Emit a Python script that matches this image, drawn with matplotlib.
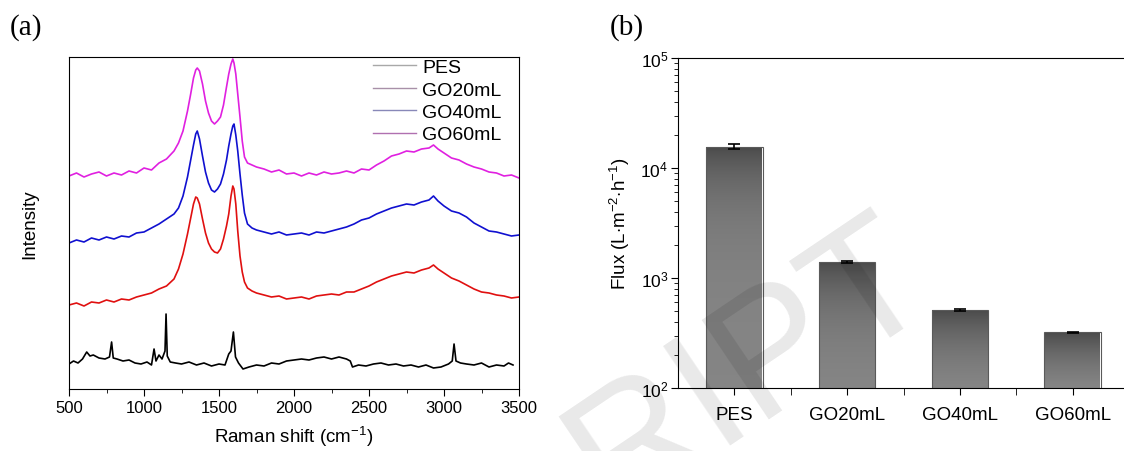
import numpy as np
import matplotlib
matplotlib.use('Agg')
import matplotlib.pyplot as plt
from matplotlib.lines import Line2D
from matplotlib.ticker import MultipleLocator, FixedLocator
from matplotlib.colors import LinearSegmentedColormap

plt.rcParams['font.family'] = ['Liberation Sans', 'DejaVu Sans']
plt.rcParams['mathtext.fontset'] = 'custom'
plt.rcParams['mathtext.rm'] = 'Liberation Sans'

# Raman spectra (a), intensity in arbitrary units
wn_go = [500, 550, 600, 650, 700, 750, 800, 850, 900, 950, 1000, 1050, 1100, 1150, 1200,
         1230, 1260, 1290, 1310, 1330, 1345, 1355, 1370, 1390, 1410, 1430, 1450, 1470, 1490,
         1510, 1530, 1550, 1565, 1580, 1592, 1600, 1612, 1625, 1640, 1655, 1670, 1690, 1720,
         1750, 1800, 1850, 1900, 1950, 2000, 2050, 2100, 2150, 2200, 2250, 2300, 2350, 2400,
         2450, 2500, 2550, 2600, 2650, 2700, 2750, 2800, 2850, 2900, 2930, 2960, 3000, 3050,
         3100, 3150, 3200, 3250, 3300, 3350, 3400, 3450, 3500]
go60 = [213, 216, 212, 215, 217, 213, 216, 214, 218, 216, 221, 219, 226, 230, 238,
        246, 258, 278, 294, 311, 319, 321, 318, 305, 288, 276, 268, 265, 268,
        272, 284, 302, 315, 325, 330, 326, 315, 295, 272, 248, 232, 226, 224,
        222, 220, 217, 219, 215, 216, 213, 216, 214, 217, 215, 216, 218, 216,
        220, 219, 224, 228, 233, 235, 238, 237, 240, 241, 244, 240, 236, 231,
        229, 225, 222, 220, 217, 216, 213, 214, 211]
go40 = [146, 149, 147, 151, 149, 152, 150, 153, 152, 156, 157, 161, 165, 170, 175,
        181, 193, 212, 228, 244, 255, 258, 250, 233, 217, 206, 199, 197, 200,
        205, 215, 229, 243, 255, 263, 265, 254, 238, 215, 194, 176, 165, 161,
        159, 157, 155, 157, 154, 155, 156, 154, 157, 156, 158, 160, 162, 165,
        169, 171, 175, 178, 181, 183, 185, 184, 187, 189, 193, 188, 183, 178,
        176, 172, 166, 162, 158, 157, 155, 153, 154]
go20 = [84, 86, 83, 87, 86, 89, 87, 90, 89, 92, 94, 96, 100, 103, 110,
        120, 135, 155, 170, 185, 192, 191, 185, 170, 156, 146, 140, 137, 136,
        140, 150, 163, 175, 193, 203, 200, 185, 158, 133, 117, 107, 101, 98,
        96, 94, 92, 93, 90, 91, 92, 90, 93, 94, 95, 94, 97, 97,
        100, 103, 107, 110, 113, 115, 117, 116, 119, 121, 124, 120, 116, 111,
        108, 104, 100, 97, 96, 94, 93, 91, 92]
wn_pes = [500, 530, 560, 590, 618, 640, 662, 700, 740, 770, 784, 795, 820, 860, 900, 940,
          980, 1020, 1050, 1067, 1080, 1100, 1120, 1140, 1147, 1155, 1175, 1210, 1250, 1300,
          1350, 1400, 1450, 1500, 1540, 1565, 1580, 1596, 1610, 1630, 1660, 1700, 1750, 1800,
          1850, 1900, 1950, 2000, 2050, 2100, 2150, 2200, 2250, 2300, 2350, 2375, 2390, 2430,
          2480, 2530, 2580, 2630, 2680, 2730, 2780, 2830, 2880, 2930, 2980, 3030, 3055, 3067,
          3080, 3110, 3150, 3200, 3250, 3300, 3350, 3400, 3430, 3460]
pes = [25, 28, 26, 30, 37, 33, 34, 31, 30, 32, 47, 31, 30, 28, 29, 26,
       25, 27, 24, 40, 28, 34, 30, 38, 75, 33, 27, 26, 25, 27,
       24, 26, 23, 25, 24, 35, 38, 57, 32, 26, 20, 22, 24, 23,
       26, 25, 28, 29, 30, 29, 31, 32, 30, 32, 30, 28, 22, 24,
       23, 25, 26, 24, 25, 23, 24, 22, 24, 21, 22, 25, 28, 45,
       28, 26, 25, 24, 26, 22, 24, 23, 26, 24]

# water flux (b)
samples = ['PES', 'GO20mL', 'GO40mL', 'GO60mL']
flux = [15600, 1400, 515, 320]
flux_err = [800, 25, 10, 6]

fig = plt.figure(figsize=(11.24, 4.52), dpi=100)

# --- (a) Raman ---
ax1 = fig.add_axes([69/1124, 62/452, 450/1124, 332/452])
ax1.plot(wn_pes, pes, color='black', lw=1.2)
ax1.plot(wn_go, go20, color='#e01010', lw=1.2)
ax1.plot(wn_go, go40, color='#1010d0', lw=1.2)
ax1.plot(wn_go, go60, color='#e020e0', lw=1.2)
ax1.set_xlim(500, 3500)
ax1.set_ylim(0, 332)
ax1.set_yticks([])
ax1.xaxis.set_major_locator(MultipleLocator(500))
ax1.xaxis.set_minor_locator(MultipleLocator(250))
ax1.tick_params(axis='x', which='major', direction='out', length=5, labelsize=12, pad=3)
ax1.tick_params(axis='x', which='minor', direction='out', length=3)
ax1.set_xlabel('Raman shift (cm$^{-1}$)', fontsize=13.5, labelpad=6)
ax1.set_ylabel('Intensity', fontsize=13.5, labelpad=22)

handles = [Line2D([], [], color='#a8a8a8', lw=1),
           Line2D([], [], color='#a890a8', lw=1),
           Line2D([], [], color='#8888b8', lw=1),
           Line2D([], [], color='#b070b0', lw=1)]
ax1.legend(handles, samples, loc='upper left', bbox_to_anchor=(0.655, 1.025),
           frameon=False, fontsize=14, handlelength=2.2, handletextpad=0.3,
           labelspacing=0.25, borderaxespad=0.1)

# --- (b) flux ---
ax2 = fig.add_axes([678/1124, 63/452, 451/1124, 330/452])
pos = np.arange(1, len(samples) + 1)
bars = ax2.bar(pos, flux, width=0.5, color='none', edgecolor='#5a5a5a', lw=0.8, zorder=2)
ax2.set_yscale('log')
ax2.set_ylim(1e2, 1e5)
cmap = LinearSegmentedColormap.from_list('g', ['#858585', '#4a4a4a'])
grad = np.linspace(0, 1, 256).reshape(-1, 1)
for b, h in zip(bars, flux):
    im = ax2.imshow(grad, extent=(b.get_x(), b.get_x() + b.get_width(), 1e2, h),
                    origin='lower', aspect='auto', cmap=cmap, zorder=1)
    im.set_clip_path(b)
ax2.errorbar(pos, flux, yerr=flux_err, fmt='none', ecolor='black', elinewidth=1.2,
             capsize=4, capthick=1.2, zorder=3)
ax2.set_aspect('auto')
ax2.set_xlim(0.5, 4.5)
ax2.set_xticks(pos)
ax2.set_xticklabels(samples)
ax2.xaxis.set_minor_locator(FixedLocator([1.5, 2.5, 3.5, 4.5]))
ax2.tick_params(axis='x', which='both', direction='out', length=5, labelsize=13.5, pad=8)
ax2.tick_params(axis='y', which='major', direction='out', length=5, labelsize=12.5, pad=2)
ax2.tick_params(axis='y', which='minor', direction='out', length=3)
ax2.spines['right'].set_visible(False)
ax2.set_ylabel('Flux (L$\\cdot$m$^{-2}$$\\cdot$h$^{-1}$)', fontsize=13.5, labelpad=6)

fig.text(10/1124, 1 - 28/452, '(a)', family='Liberation Serif', fontsize=21, va='center')
fig.text(610/1124, 1 - 28/452, '(b)', family='Liberation Serif', fontsize=21, va='center')

# faint watermark, cut by the lower edge as in the source page
fig.text(750/1124, 1 - 368/452, 'RIPT', fontsize=125, color='black', alpha=0.09,
         rotation=34, ha='center', va='center', zorder=10)

fig.savefig('out.png', dpi=100)
